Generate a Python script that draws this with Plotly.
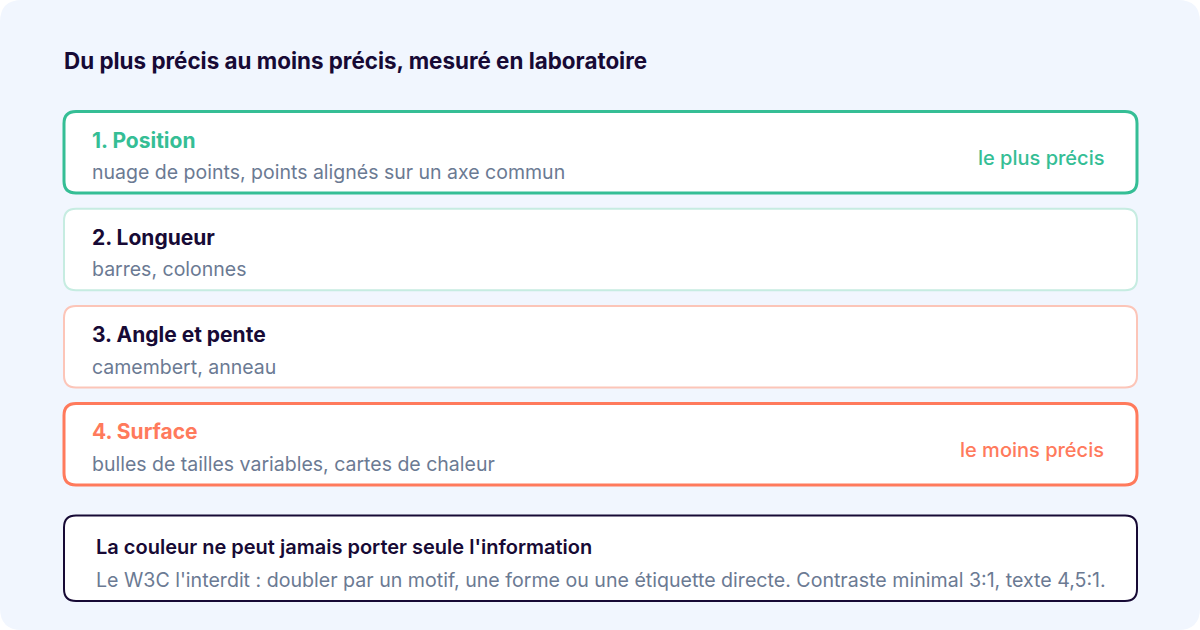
import plotly.graph_objects as go

# Données
chart_title = "Du plus précis au moins précis, mesuré en laboratoire"
rank_titles = ["1. Position", "2. Longueur", "3. Angle et pente", "4. Surface"]
rank_descriptions = [
    "nuage de points, points alignés sur un axe commun",
    "barres, colonnes",
    "camembert, anneau",
    "bulles de tailles variables, cartes de chaleur",
]
rank_side_labels = ["le plus précis", "", "", "le moins précis"]
note_title = "La couleur ne peut jamais porter seule l'information"
note_text = ("Le W3C l'interdit : doubler par un motif, une forme ou une étiquette directe. "
             "Contraste minimal 3:1, texte 4,5:1.")

# Styles
DARK = "#170a35"
GREY = "#6b7a93"
GREEN = "#35be95"
CORAL = "#ff7a5c"
border_colors = [GREEN, "#c6ece1", "#fcc5b8", CORAL]
border_widths = [3, 2, 2, 3]
title_colors = [GREEN, DARK, DARK, CORAL]
FONT = "Inter, 'Noto Sans', sans-serif"


def rounded_rect(x0, y0, x1, y1, r):
    return (f"M {x0+r},{y0} L {x1-r},{y0} Q {x1},{y0} {x1},{y0+r} "
            f"L {x1},{y1-r} Q {x1},{y1} {x1-r},{y1} "
            f"L {x0+r},{y1} Q {x0},{y1} {x0},{y1-r} "
            f"L {x0},{y0+r} Q {x0},{y0} {x0+r},{y0} Z")


def label(x, y, text, size, color, weight=400, anchor="left"):
    # les annotations ajoutent un peu de marge interne : on compense
    x = x - 2.5 if anchor == "left" else x + 0.5
    return dict(x=x, y=y, text=text, showarrow=False, xanchor=anchor, yanchor="middle",
                font=dict(family=FONT, size=size, color=color, weight=weight))


fig = go.Figure()
shapes = []
annotations = []

# fond du panneau
shapes.append(dict(type="path", path=rounded_rect(0, 0, 1200, 630, 22),
                   fillcolor="#f1f6fe", line=dict(width=0), layer="below"))

annotations.append(label(64, 60, chart_title, 22.4, DARK, 700))

# les quatre rangs
for i, (t, d, s) in enumerate(zip(rank_titles, rank_descriptions, rank_side_labels)):
    top = 111.5 + i * 97.3
    bottom = top + 81.5
    shapes.append(dict(type="path", path=rounded_rect(64, top, 1137, bottom, 12),
                       fillcolor="white",
                       line=dict(color=border_colors[i], width=border_widths[i])))
    annotations.append(label(92, top + 28.5, t, 21, title_colors[i], 700))
    annotations.append(label(92, top + 60.5, d, 19.5, GREY))
    if s:
        annotations.append(label(1105, top + 46.5, s, 20, border_colors[i], 500, "right"))

# encadré final
shapes.append(dict(type="path", path=rounded_rect(64, 515.5, 1137, 601, 12),
                   fillcolor="white", line=dict(color=DARK, width=2)))
annotations.append(label(96, 547, note_title, 20, DARK, 600))
annotations.append(label(96, 580, note_text, 19.6, GREY))

fig.update_layout(
    width=1200, height=630,
    margin=dict(l=0, r=0, t=0, b=0),
    paper_bgcolor="white", plot_bgcolor="rgba(0,0,0,0)",
    xaxis=dict(range=[0, 1200], visible=False, fixedrange=True),
    yaxis=dict(range=[630, 0], visible=False, fixedrange=True),
    shapes=shapes, annotations=annotations,
    showlegend=False,
)

fig.write_html("out.html", config={"displayModeBar": False})

# pas de marge autour du graphique dans la page
with open("out.html", encoding="utf-8") as f:
    html = f.read()
html = html.replace("<head>", "<head><style>body{margin:0}</style>", 1)
with open("out.html", "w", encoding="utf-8") as f:
    f.write(html)
